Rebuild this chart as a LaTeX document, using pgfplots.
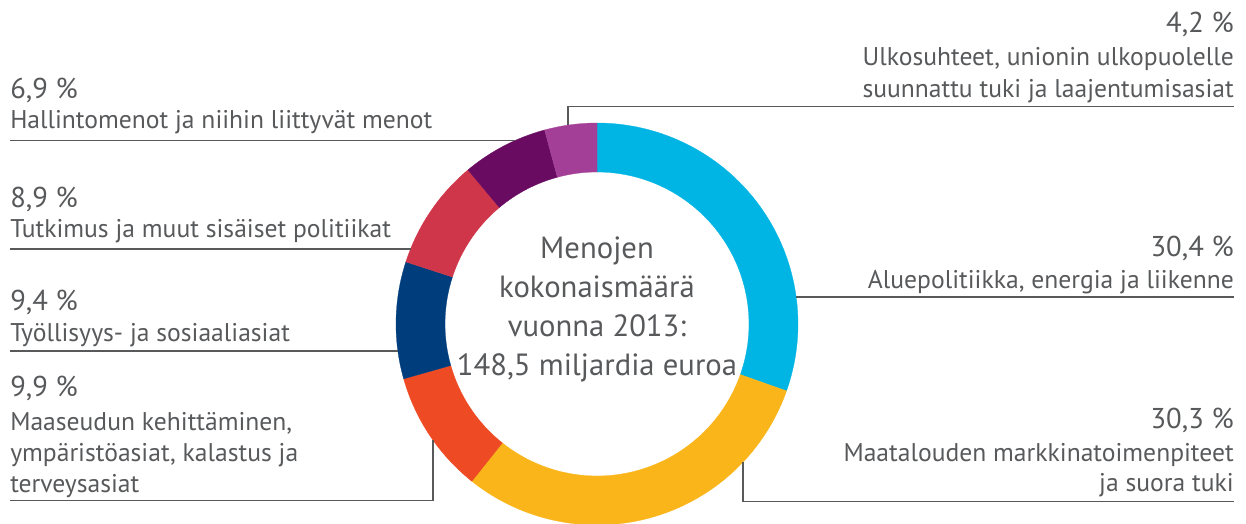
\documentclass[border=0pt]{standalone}
\usepackage{pgfplots}
\usepackage{pgfplotstable}
\pgfplotsset{compat=1.18}
\usepackage{fontspec}
\setmainfont{PT Sans}
\definecolor{cblue}{HTML}{00B4E3}
\definecolor{cyellow}{HTML}{F9B51A}
\definecolor{corange}{HTML}{EE4B24}
\definecolor{cnavy}{HTML}{003D7C}
\definecolor{cred}{HTML}{D0364A}
\definecolor{cpurple}{HTML}{6A0B62}
\definecolor{cmagenta}{HTML}{A43F97}
\definecolor{txt}{HTML}{58595B}
\pgfplotstableread{
pct col
30.4 cblue
30.3 cyellow
9.9 corange
9.4 cnavy
8.9 cred
6.9 cpurple
4.2 cmagenta
}\donut
\tikzset{lbl/.style={text=txt, font=\fontsize{19.2}{24}\selectfont, inner sep=0pt},
         pc/.style={text=txt, font=\fontsize{21.5}{26}\selectfont, inner sep=0pt},
         ctr/.style={text=txt, font=\fontsize{23}{27}\selectfont, inner sep=0pt, anchor=base}}
\begin{document}
\begin{tikzpicture}
\begin{axis}[
  hide axis, scale only axis, x=0.75pt, y=0.75pt,
  xmin=0, xmax=1246, ymin=0, ymax=524, y dir=reverse,
  enlargelimits=false, clip=false,
]
\xdef\acc{90}
\pgfplotsinvokeforeach{0,...,6}{
  \pgfplotstablegetelem{#1}{pct}\of\donut \let\p\pgfplotsretval
  \pgfplotstablegetelem{#1}{col}\of\donut \let\c\pgfplotsretval
  \pgfmathsetmacro\aend{\acc-3.6*\p}
  \edef\temp{\noexpand\fill[\c, draw=\c, line width=0.2pt, shift={(axis cs:597,324)}] (\acc:150.75pt) arc[start angle=\acc, end angle=\aend, radius=150.75pt] -- (\aend:114pt) arc[start angle=\aend, end angle=\acc, radius=114pt] -- cycle;}
  \temp
  \xdef\acc{\aend}
}
% leader lines
\draw[txt, line width=1.1pt] (axis cs:568,125) -- (axis cs:568,106.7) -- (axis cs:1234,106.7);
\draw[txt, line width=1.1pt] (axis cs:796,297) -- (axis cs:1234,297);
\draw[txt, line width=1.1pt] (axis cs:743,462) -- (axis cs:743,501.7) -- (axis cs:1234,501.7);
\draw[txt, line width=1.1pt] (axis cs:433,440) -- (axis cs:433,500.7) -- (axis cs:10,500.7);
\draw[txt, line width=1.1pt] (axis cs:398,351) -- (axis cs:10,351);
\draw[txt, line width=1.1pt] (axis cs:410.5,249) -- (axis cs:10,249);
\draw[txt, line width=1.1pt] (axis cs:514.5,140.7) -- (axis cs:10,140.7);
% right labels
\node[pc, anchor=base east] at (axis cs:1234,33) {4,2 \%};
\node[lbl, anchor=base east] at (axis cs:1234,65.5) {Ulkosuhteet, unionin ulkopuolelle};
\node[lbl, anchor=base east] at (axis cs:1234,97.5) {suunnattu tuki ja laajentumisasiat};
\node[pc, anchor=base east] at (axis cs:1234,256) {30,4 \%};
\node[lbl, anchor=base east] at (axis cs:1234,288.3) {Aluepolitiikka, energia ja liikenne};
\node[pc, anchor=base east] at (axis cs:1234,428) {30,3 \%};
\node[lbl, anchor=base east] at (axis cs:1234,461.7) {Maatalouden markkinatoimenpiteet};
\node[lbl, anchor=base east] at (axis cs:1234,491.7) {ja suora tuki};
% left labels
\node[pc, anchor=base west] at (axis cs:10,98.3) {6,9 \%};
\node[lbl, anchor=base west] at (axis cs:10,128.3) {Hallintomenot ja niihin liittyvät menot};
\node[pc, anchor=base west] at (axis cs:10,208) {8,9 \%};
\node[lbl, anchor=base west] at (axis cs:10,238) {Tutkimus ja muut sisäiset politiikat};
\node[pc, anchor=base west] at (axis cs:10,310) {9,4 \%};
\node[lbl, anchor=base west] at (axis cs:10,341.5) {Työllisyys- ja sosiaaliasiat};
\node[pc, anchor=base west] at (axis cs:10,396.5) {9,9 \%};
\node[lbl, anchor=base west] at (axis cs:10,430) {Maaseudun kehittäminen,};
\node[lbl, anchor=base west] at (axis cs:10,461) {ympäristöasiat, kalastus ja};
\node[lbl, anchor=base west] at (axis cs:10,492) {terveysasiat};
% centre text
\node[ctr] at (axis cs:597,258.3) {Menojen};
\node[ctr] at (axis cs:597,297) {kokonaismäärä};
\node[ctr] at (axis cs:597,336) {vuonna 2013:};
\node[ctr] at (axis cs:597,375) {148,5 miljardia euroa};
\end{axis}
\pgfresetboundingbox
\path (current axis.south west) rectangle (current axis.north east);
\end{tikzpicture}
\end{document}
